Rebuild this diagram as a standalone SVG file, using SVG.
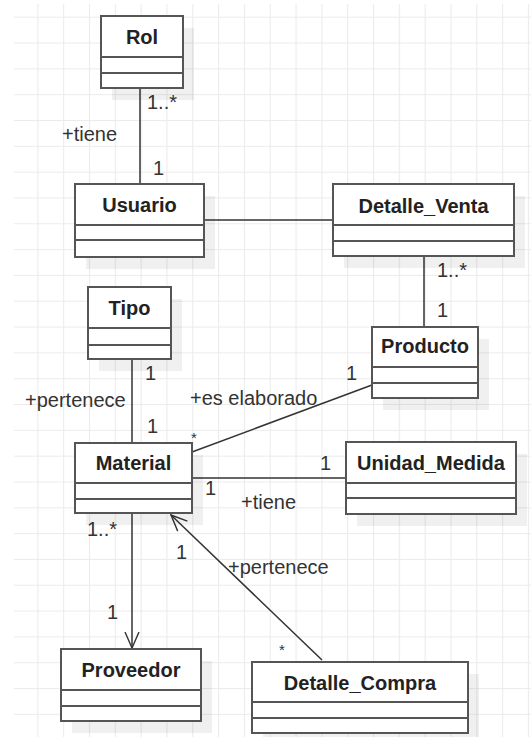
<svg xmlns="http://www.w3.org/2000/svg" width="531" height="737" viewBox="0 0 531 737">
<defs>
<pattern id="grid" patternUnits="userSpaceOnUse" x="11.5" y="-9.1" width="25.82" height="25.82">
<path d="M0.5 0 V25.82 M0 0.5 H25.82" stroke="#ebebeb" stroke-width="1.2" fill="none"/>
</pattern>
<marker id="open" markerUnits="userSpaceOnUse" viewBox="0 0 18 16" refX="16.5" refY="8" markerWidth="18" markerHeight="16" orient="auto">
<path d="M0.5 1 L16.5 8 L0.5 15" fill="none" stroke="#333" stroke-width="1.4"/>
</marker>
<style>
.box{fill:#fff;stroke:#555;stroke-width:2}
.sh{fill:#000;fill-opacity:0.06}
.div{stroke:#555;stroke-width:2}
.name{font-family:"Liberation Sans",Arial,sans-serif;font-size:20px;font-weight:bold;fill:#222;text-anchor:middle}
.lbl{font-family:"Liberation Sans",Arial,sans-serif;font-size:20px;fill:#333}
.sm{font-family:"Liberation Sans",Arial,sans-serif;font-size:15px;fill:#333}
.con{stroke:#333;stroke-width:1.5;fill:none}
</style>
</defs>
<rect width="531" height="737" fill="#fff"/>
<rect x="14" y="4" width="517" height="733" fill="url(#grid)"/>

<g id="connectors">
<line class="con" x1="140" y1="88" x2="140" y2="184"/>
<line class="con" x1="204" y1="220" x2="333" y2="220"/>
<line class="con" x1="424" y1="256" x2="424" y2="327"/>
<line class="con" x1="132" y1="359" x2="132" y2="443"/>
<line class="con" x1="192" y1="452" x2="372" y2="385"/>
<line class="con" x1="192" y1="478" x2="346" y2="478"/>
<line class="con" x1="132" y1="513" x2="132" y2="648" marker-end="url(#open)"/>
<line class="con" x1="322" y1="660" x2="171" y2="515" marker-end="url(#open)"/>
</g>

<g id="labels">
<text class="lbl" x="147" y="109">1..*</text>
<text class="lbl" x="62" y="141">+tiene</text>
<text class="lbl" x="153" y="175">1</text>
<text class="lbl" x="437" y="277">1..*</text>
<text class="lbl" x="437" y="317">1</text>
<text class="lbl" x="346" y="380">1</text>
<text class="lbl" x="190" y="405">+es elaborado</text>
<text class="sm" x="191" y="443">*</text>
<text class="lbl" x="145" y="380">1</text>
<text class="lbl" x="25" y="407">+pertenece</text>
<text class="lbl" x="147" y="433">1</text>
<text class="lbl" x="320" y="470">1</text>
<text class="lbl" x="205" y="495">1</text>
<text class="lbl" x="241" y="509">+tiene</text>
<text class="lbl" x="87" y="536">1..*</text>
<text class="lbl" x="176" y="559">1</text>
<text class="lbl" x="228" y="574">+pertenece</text>
<text class="lbl" x="107" y="619">1</text>
<text class="sm" x="279" y="655">*</text>
</g>

<g id="Rol">
<rect class="sh" x="112" y="28" width="82" height="72"/>
<rect class="box" x="101" y="16" width="82" height="72"/>
<line class="div" x1="101" y1="57" x2="183" y2="57"/>
<line class="div" x1="101" y1="73" x2="183" y2="73"/>
<text class="name" x="142" y="44">Rol</text>
</g>

<g id="Usuario">
<rect class="sh" x="86" y="196" width="129" height="73"/>
<rect class="box" x="75" y="184" width="129" height="73"/>
<line class="div" x1="75" y1="225" x2="204" y2="225"/>
<line class="div" x1="75" y1="240" x2="204" y2="240"/>
<text class="name" x="139.5" y="212">Usuario</text>
</g>

<g id="Detalle_Venta">
<rect class="sh" x="344" y="196" width="181" height="72"/>
<rect class="box" x="333" y="184" width="181" height="72"/>
<line class="div" x1="333" y1="225" x2="514" y2="225"/>
<line class="div" x1="333" y1="241" x2="514" y2="241"/>
<text class="name" x="423.5" y="213">Detalle_Venta</text>
</g>

<g id="Producto">
<rect class="sh" x="383" y="339" width="106" height="71"/>
<rect class="box" x="372" y="327" width="106" height="71"/>
<line class="div" x1="372" y1="367" x2="478" y2="367"/>
<line class="div" x1="372" y1="383" x2="478" y2="383"/>
<text class="name" x="425" y="353">Producto</text>
</g>

<g id="Tipo">
<rect class="sh" x="99" y="299" width="83" height="72"/>
<rect class="box" x="88" y="287" width="83" height="72"/>
<line class="div" x1="88" y1="328" x2="171" y2="328"/>
<line class="div" x1="88" y1="345" x2="171" y2="345"/>
<text class="name" x="129.5" y="315">Tipo</text>
</g>

<g id="Material">
<rect class="sh" x="86" y="455" width="117" height="70"/>
<rect class="box" x="75" y="443" width="117" height="70"/>
<line class="div" x1="75" y1="483" x2="192" y2="483"/>
<line class="div" x1="75" y1="499" x2="192" y2="499"/>
<text class="name" x="133.5" y="470">Material</text>
</g>

<g id="Unidad_Medida">
<rect class="sh" x="357" y="454" width="170" height="72"/>
<rect class="box" x="346" y="442" width="170" height="72"/>
<line class="div" x1="346" y1="483" x2="516" y2="483"/>
<line class="div" x1="346" y1="498" x2="516" y2="498"/>
<text class="name" x="431" y="470">Unidad_Medida</text>
</g>

<g id="Proveedor">
<rect class="sh" x="72" y="661" width="140" height="72"/>
<rect class="box" x="61" y="649" width="140" height="72"/>
<line class="div" x1="61" y1="690" x2="201" y2="690"/>
<line class="div" x1="61" y1="706" x2="201" y2="706"/>
<text class="name" x="131" y="677">Proveedor</text>
</g>

<g id="Detalle_Compra">
<rect class="sh" x="263" y="674" width="216" height="71"/>
<rect class="box" x="252" y="662" width="216" height="71"/>
<line class="div" x1="252" y1="702" x2="468" y2="702"/>
<line class="div" x1="252" y1="718" x2="468" y2="718"/>
<text class="name" x="360" y="690">Detalle_Compra</text>
</g>
</svg>
